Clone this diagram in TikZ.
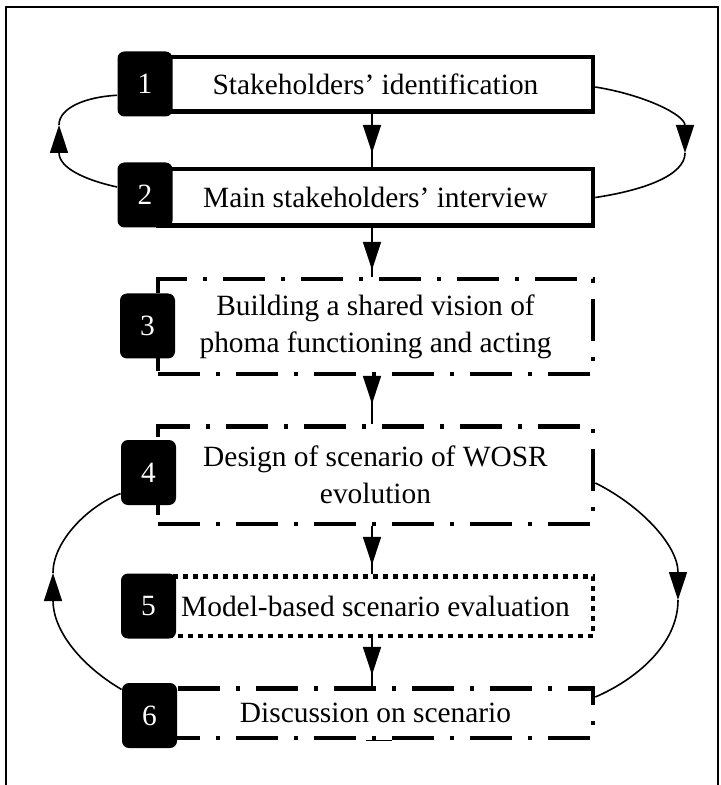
\documentclass[tikz,border=0pt]{standalone}
\usepackage{fontspec}
\setmainfont{Liberation Serif}
\usetikzlibrary{%
  arrows.meta,
  decorations.markings
}
\tikzset{>={Triangle[length=14pt,width=9pt]}}
\tikzset{
  stepbox/.style={draw, line width=2.3pt, minimum width=217.5pt,
    inner sep=0pt, align=center, font=\fontsize{14.7}{18.5}\selectfont},
  dashdot/.style={dash pattern=on 21pt off 8pt on 2pt off 8pt},
  dotbox/.style={dash pattern=on 2.5pt off 2.5pt},
  numtab/.style={fill=black, text=white, rounded corners=3.5pt,
    minimum width=27.5pt, minimum height=32.5pt, inner sep=0pt,
    font=\fontsize{14.7}{18.5}\selectfont},
  cycleline/.style={line width=0.8pt},
  flow/.style={line width=0.8pt, postaction={decorate},
    decoration={markings, mark=at position -#1 with {\arrow{>}}}}
}

\begin{document}
\begin{tikzpicture}[x=0.5pt,y=-0.5pt]

  \useasboundingbox (0,0) rectangle (720,785);
  \draw[line width=1pt] (6,785) -- (6,7) -- (718,7) -- (718,785);

  % steps
  \node[stepbox, minimum height=27.3pt] (b1) at (375.5,84.5) {Stakeholders' identification};
  \node[stepbox, minimum height=28.3pt] (b2) at (375.5,197.5) {Main stakeholders' interview};
  \node[stepbox, dashdot, minimum height=47.3pt] (b3) at (375.5,326.5)
    {Building a shared vision of\\phoma functioning and acting};
  \node[stepbox, dashdot, minimum height=48.8pt] (b4) at (375.5,475)
    {Design of scenario of WOSR\\evolution};
  \node[stepbox, dotbox, minimum height=29.8pt] (b5) at (375.5,606) {Model-based scenario evaluation};
  \node[stepbox, dashdot, minimum height=24.8pt] (b6) at (375.5,713) {Discussion on scenario};

  \node[numtab] (n1) at (145,84) {1};
  \node[numtab] (n2) at (145,195) {2};
  \node[numtab] (n3) at (147.5,326) {3};
  \node[numtab] (n4) at (148.5,472.5) {4};
  \node[numtab] (n5) at (148.5,606) {5};
  \node[numtab] (n6) at (149.5,715.5) {6};

  \draw[flow=7pt] ([xshift=-1.75pt]b1.south) -- ([xshift=-1.75pt]b2.north);
  \draw[flow=3.5pt] ([xshift=-1.75pt]b2.south) -- ([xshift=-1.75pt]b3.north);
  \draw[flow=10pt] ([xshift=-1.75pt]b3.south) -- ([xshift=-1.75pt]b4.north);
  \draw[flow=4.5pt] ([xshift=-1.75pt]b4.south) -- ([xshift=-1.75pt]b5.north);
  \draw[flow=5.5pt] ([xshift=-1.75pt]b5.south) -- ([xshift=-1.75pt]b6.north);

  % loops
  \coordinate (tA) at (59,125);
  \coordinate (tB) at (685,153);
  \coordinate (tC) at (678,600);
  \coordinate (tD) at (53,573);

  \draw[cycleline,->] (n2.164) .. controls (85,180) and (59,168) .. (tA);
  \draw[cycleline] (tA) .. controls (59,108) and (85,97) .. (n1.202);

  \draw[cycleline,->] ([yshift=-1.25pt]b1.east) .. controls (645,95) and (685,115) .. (tB);
  \draw[cycleline] (tB) .. controls (685,175) and (645,190) .. (b2.east);

  \draw[cycleline,->] ([yshift=-4pt]b4.east) .. controls (640,505) and (678,545) .. (tC);
  \draw[cycleline] (tC) .. controls (678,645) and (635,680) .. ([yshift=8pt]b6.east);

  \draw[cycleline,->] (n6.137) .. controls (80,665) and (53,630) .. (tD);
  \draw[cycleline] (tD) .. controls (53,540) and (90,505) .. (n4.217);

  \draw[thin] ([xshift=-4.75pt]b6.south) -- ([xshift=8.25pt]b6.south);

\end{tikzpicture}
\end{document}
